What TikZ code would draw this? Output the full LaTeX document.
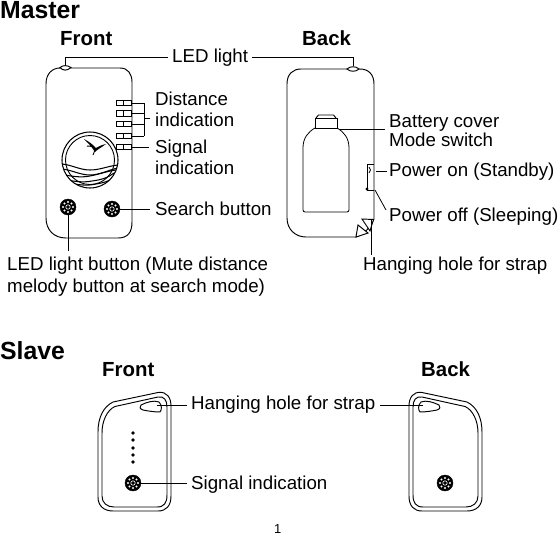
\documentclass[tikz,border=0pt]{standalone}
\usepackage{fontspec}
\setmainfont{Liberation Sans}
\tikzset{
  x=1pt,y=-1pt,
  ln/.style={line width=0.95pt,black},
  thin ln/.style={line width=0.8pt,black},
  lbl/.style={anchor=base west,inner sep=0pt,font=\fontsize{18.7}{21}\selectfont},
  head/.style={anchor=base west,inner sep=0pt,font=\fontsize{20.4}{23}\selectfont\bfseries},
  title/.style={anchor=base west,inner sep=0pt,font=\fontsize{24.8}{27}\selectfont\bfseries},
  knob/.style={circle,fill=black,draw=black,minimum size=16pt,inner sep=0pt},
  bar/.style={draw=black,line width=1pt,fill=white,minimum width=15pt,minimum height=5.5pt,inner sep=0pt},
  dotn/.style={circle,fill=black,minimum size=3.6pt,inner sep=0pt},
  wv/.style={line width=1.05pt,black},
}
\newcommand{\knobat}[3]{%
  \node[knob] (#1) at (#2,#3) {};
  \foreach \a in {0,45,...,315}{\fill[white] (#2,#3) ++(\a:5pt) circle (1.15pt);}
  \draw[white,line width=0.6pt] (#2,#3) circle (2.2pt);
}
\newcommand{\barat}[3]{%
  \node[bar] (#1) at (#2,#3) {};
  \draw[line width=0.9pt] (#2,#3)++(0,-2.7) -- ++(0,5.4);
}
\begin{document}
\begin{tikzpicture}
\useasboundingbox (0,0) rectangle (558,536);
\fill[white] (0,0) rectangle (558,536);
% headings
\node[title] (tm) at (0,18.5) {Master};
\node[head] (ff) at (60,45) {Front};
\node[head] (fb) at (302,45) {Back};
\node[title] (ts) at (0,359) {Slave};
\node[head] (sf) at (102,376) {Front};
\node[head] (sb) at (421,376) {Back};
% master front body
\draw[ln] (46,84) .. controls (46,74) and (52,68) .. (60,68) -- (120,68) .. controls (128,68) and (132,74) .. (132,82) -- (132,222) .. controls (132,232) and (128,238) .. (118,238) -- (66,238) .. controls (54,238) and (46,230) .. (46,218) -- cycle;
\draw[ln,fill=white] (60,67.5) .. controls (63,65) and (67,65) .. (71,67.5) .. controls (67,71) and (63,71) .. (60,67.5) -- cycle;
\coordinate (ledF) at (65,65);
% bars
\barat{b1}{123.5}{103}
\barat{b2}{123.5}{113.5}
\barat{b3}{123.5}{124}
\barat{b4}{123.5}{136}
\barat{b5}{123.5}{147}
\coordinate (bk1) at (144,103);
\coordinate (bk2) at (144,113.5);
\coordinate (bk3) at (144,124);
\coordinate (bk4) at (144,136);
\coordinate (bkm) at (144,118);
% dial
\node[circle,draw=black,line width=1.05pt,minimum size=56pt,inner sep=0pt] (dial) at (90,160) {};
\draw[line width=0.9pt] (90,160) circle (24.5pt);
\begin{scope}
\clip (90,160) circle (28pt);
\draw[wv] (62,164) .. controls (72,165) and (80,170) .. (90,170) .. controls (100,170) and (108,166) .. (118,165);
\draw[wv] (62,169) .. controls (72,170) and (80,175) .. (90,175) .. controls (100,175) and (108,170) .. (118,168);
\draw[wv] (64,175) .. controls (72,176) and (80,178) .. (90,176) .. controls (100,174) and (108,171) .. (116,170);
\draw[wv] (66,180) .. controls (74,181) and (82,183) .. (92,181) .. controls (100,180) and (108,178) .. (114,173);
\draw[wv] (70,183) .. controls (78,185) and (88,186) .. (96,184) .. controls (102,183) and (106,182) .. (110,180);
\end{scope}
\fill (84,139) .. controls (90,142) and (93,145) .. (96,148) .. controls (99,146) and (102,145) .. (106,144) .. controls (102,147) and (98,149) .. (95,152) .. controls (92,147) and (88,143) .. (84,139) -- cycle;
\draw[line width=1pt] (87,146) -- (94,146.5);
\draw[line width=0.9pt] (95,150) -- (93,155);
% knobs
\knobat{kA}{68}{207}
\knobat{kB}{112}{209}
% master back body
\draw[ln] (287,84) .. controls (287,74) and (293,69) .. (301,69) -- (360,69) .. controls (369,69) and (374,75) .. (374,84) -- (374,219) .. controls (370,228) and (364,234) .. (356,237) -- (306,237) .. controls (295,237) and (287,229) .. (287,218) -- cycle;
\draw[ln,fill=white] (347,69) .. controls (350,66) and (356,66) .. (359,69) .. controls (356,72) and (350,72) .. (347,69) -- cycle;
\coordinate (ledB) at (353,66);
% battery cover
\draw[thin ln] (305,212) .. controls (304,212) and (303,211) .. (303,210) -- (303,148) .. controls (303,138) and (308,132) .. (315,128) -- (337,128) .. controls (344,132) and (349,138) .. (349,148) -- (349,210) .. controls (349,211) and (348,212) .. (347,212) -- cycle;
\node[draw=black,line width=0.95pt,fill=white,minimum width=22pt,minimum height=10pt,inner sep=0pt] (clip) at (326,123) {};
\draw[ln] (316,118) -- (318.5,115) -- (333.5,115) -- (336,118);
\coordinate (cv) at (339,129.5);
% switch
\draw[thin ln] (374,164) -- (367,164) -- (367,190) -- (374,190);
\fill (367,189) circle (1.6pt);
\draw[thin ln] (369,167) .. controls (371,169) and (371,171) .. (369,173);
\coordinate (swOn) at (376,171);
\coordinate (swOff) at (375,190);
% hanging corner
\draw[ln,fill=white] (362,219) -- (373.5,219.5) -- (370,231) -- cycle;
\draw[ln,fill=white] (358,225) -- (368,233) -- (356,237) -- cycle;
\coordinate (hgM) at (371,219);
% labels master
\node[lbl] (l1) at (172,62) {LED light};
\node[lbl] (l2) at (155,105) {Distance};
\node[lbl] (l3) at (155,126) {indication};
\node[lbl] (l4) at (155,153) {Signal};
\node[lbl] (l5) at (155,174) {indication};
\node[lbl] (l6) at (155,215) {Search button};
\node[lbl] (l7) at (7,270) {LED light button (Mute distance};
\node[lbl] (l8) at (7,292) {melody button at search mode)};
\node[lbl] (l9) at (389,127) {Battery cover};
\node[lbl] (l10) at (389,146) {Mode switch};
\node[lbl] (l11) at (389,176) {Power on (Standby)};
\node[lbl] (l12) at (389,221) {Power off (Sleeping)};
\node[lbl] (l13) at (363,270) {Hanging hole for strap};
% connectors master
\draw[ln] (ledF) |- (168,57);
\draw[ln] (ledB) |- (252,57);
\draw[ln] (b1.east) -- (bk1);
\draw[ln] (b2.east) -- (bk2);
\draw[ln] (b3.east) -- (bk3);
\draw[ln] (b4.east) -- (bk4);
\draw[ln] (bk1) -- (bk4);
\draw[ln] (bkm) -- (150,118);
\draw[ln] (b5.east) -- (149,147);
\draw[ln] (kB.east) -- (150,209);
\draw[ln] (kA.south) -- (68,251);
\draw[ln] (cv) -- (385,129.5);
\draw[ln] (swOn) -- (387,171);
\draw[thin ln] (swOff) -- (386,210);
\draw[ln] (hgM) -- (371,255);
% slave front
\draw[ln] (113,402) -- (158,392.5) .. controls (167,391) and (171,398) .. (171,406) -- (171,496) .. controls (171,506) and (166,511) .. (158,511) -- (113,511) .. controls (104,511) and (98,506) .. (98,497) -- (98,432) .. controls (98,418) and (103,407) .. (113,402) -- cycle;
\draw[ln] (115,406.5) -- (158,397) .. controls (164,396) and (167,400) .. (167,407) -- (167,495) .. controls (167,503) and (164,507) .. (157,507) -- (114,507) .. controls (107,507) and (102,503) .. (102,496) -- (102,433) .. controls (102,421) and (107,410) .. (115,406.5) -- cycle;
\draw[ln,fill=white] (141,405) .. controls (147,402) and (154,400) .. (159,402) .. controls (162,405) and (162,410) .. (160,412) .. controls (154,412) and (148,411) .. (143,410) .. controls (140,409) and (139,407) .. (141,405) -- cycle;
\coordinate (hF) at (157,405);
\foreach \i/\yy in {1/433,2/440,3/448,4/455,5/462}{\node[dotn] (d\i) at (133,\yy) {};}
\knobat{kS}{133}{483}
% slave back
\draw[ln] (467,402) -- (422,392.5) .. controls (413,391) and (409,398) .. (409,406) -- (409,496) .. controls (409,506) and (414,511) .. (422,511) -- (467,511) .. controls (476,511) and (482,506) .. (482,497) -- (482,432) .. controls (482,418) and (477,407) .. (467,402) -- cycle;
\draw[ln] (465,406.5) -- (422,397) .. controls (416,396) and (413,400) .. (413,407) -- (413,495) .. controls (413,503) and (416,507) .. (423,507) -- (466,507) .. controls (473,507) and (478,503) .. (478,496) -- (478,433) .. controls (478,421) and (473,410) .. (465,406.5) -- cycle;
\draw[ln,fill=white] (439,405) .. controls (433,402) and (426,400) .. (421,402) .. controls (418,405) and (418,410) .. (420,412) .. controls (426,412) and (432,411) .. (437,410) .. controls (440,409) and (441,407) .. (439,405) -- cycle;
\coordinate (hB) at (423,405);
\knobat{kT}{445}{483}
% slave labels
\node[lbl] (l14) at (191,409) {Hanging hole for strap};
\node[lbl] (l15) at (191,489) {Signal indication};
\draw[ln] (hF) -- (187,405);
\draw[ln] (380,405) -- (hB);
\draw[ln] (kS.east) -- (187,483);
% page number
\node[anchor=base west,inner sep=0pt,font=\fontsize{13}{15}\selectfont] (pg) at (274,533) {1};
\end{tikzpicture}
\end{document}
